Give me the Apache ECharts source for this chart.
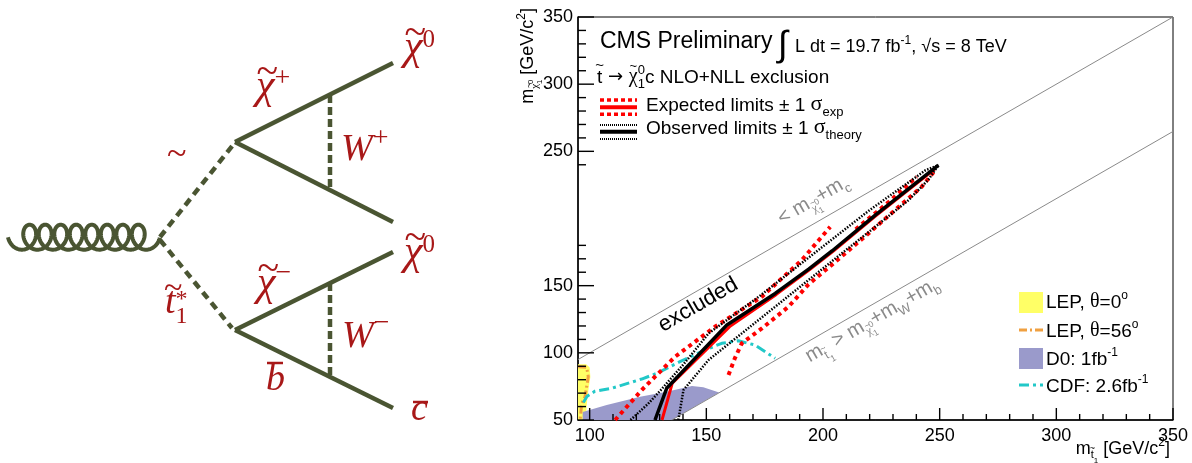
<!DOCTYPE html>
<html><head><meta charset="utf-8">
<script src="https://cdn.jsdelivr.net/npm/echarts@6/dist/echarts.min.js"></script>
<style>html,body{margin:0;padding:0;background:#fff}#c{width:1192px;height:463px}</style>
</head><body><div id="c"></div>
<script>
// ---------------- data ----------------
const xTickMajor = [100, 150, 200, 250, 300, 350];
const xTickMinor = [110,120,130,140,160,170,180,190,210,220,230,240,260,270,280,290,310,320,330,340];
const yTickMajor = [50, 100, 150, 250, 300, 350];
const yTickMinor = [60,70,80,90,110,120,130,140,160,170,180,240,260,270,280,290,310,320,330,340];
const kinLimitC = [[95, 95], [350, 350]];
const kinLimitW = [[135.2, 50], [350, 264.8]];
const lep0 = [[95,50],[95,91.5],[98.5,91.5],[100,89],[100.3,82],[99.6,74],[99,66],[98.6,58],[98.5,50]];
const lep56 = [[95.1,89.7],[98.7,89.2],[99.4,82.2],[98.7,74.8],[98.0,67.3],[96.6,62.4],[95.9,50]];
const d0 = [[97,50],[97,56],[107.3,61.2],[121.6,67.3],[133,71.1],[143.8,75.3],[148.7,74.3],[155.5,70.5],[135.2,50]];
const cdf = [[97.3,63],[98.8,67.5],[102.3,71.5],[109.4,73.6],[122.3,80.5],[128.7,84.7],[138.7,93.4],[148,101],[156.6,107.1],[163.7,109],[170.9,105.8],[179.5,95.9]];
const expected = [[131,50],[135.4,77.5],[160,119.5],[180,143.5],[194.3,162],[204.3,175.5],[222.6,202],[248,237]];
const expPlus = [[110.9,50],[122.3,72.3],[136.6,97.1],[153.7,119.4],[173.8,141.8],[190.9,169],[203.1,193.8]];
const expPlusTop = [[214,192],[228,212],[240.2,231]];
const expMinus = [[159.5,83.5],[162.2,95.9],[165.2,107.1],[173.8,118.2],[185.2,134.3],[193.8,151],[205.2,167.6],[219.5,188.9],[230.9,206.3],[242.3,223.6],[248.1,236]];
const observed = [[128,50],[133,73.6],[158.8,120.7],[179.5,144.2],[194,162.5],[204,176],[222.4,202.5],[249.5,239.7]];
const obsPlus = [[117.5,50],[125,62],[130.5,72.3],[140,91],[151,114.5],[172.5,141.8],[198,176.5],[220,206.3],[244,236],[249.5,239.7]];
const obsMinus = [[138,50],[140.2,72.3],[150.9,94.6],[165.2,114.5],[179.5,134.3],[193.8,154.2],[208.1,174.1],[222.4,193.8],[236.7,213.7],[245.1,228.8],[249.5,239.7]];

// ---------------- helpers ----------------
const SANS = '"Liberation Sans", Arial, "DejaVu Sans", sans-serif';
const SERIF = '"Liberation Serif", "Times New Roman", "DejaVu Serif", serif';
const DJ = '"DejaVu Sans", sans-serif';
const mctx = document.createElement('canvas').getContext('2d');
function tw(t, s, fam, it) { mctx.font = (it ? 'italic ' : '') + s + 'px ' + fam; return mctx.measureText(t).width; }
function rich(pieces, color, align, base) {
  base = base || 0;
  let cur = 0; const els = [];
  for (let i = 0; i < pieces.length; i++) {
    const p = pieces[i];
    const fam = p.f || SANS;
    const w = tw(p.t, p.s, fam, p.it);
    let x = cur + (p.dx || 0), adv = (p.adv !== undefined ? p.adv : w);
    if (p.over) {
      const n = pieces[i + 1];
      const wn = tw(n.t, n.s, n.f || SANS, n.it);
      x = cur + (wn - w) / 2 + (p.dx || 0); adv = 0;
    }
    els.push({ type: 'text', x: x, y: base + (p.dy || 0) - 0.345 * p.s, silent: true,
      style: { text: p.t, fontSize: p.s, fontFamily: fam, fontStyle: p.it ? 'italic' : 'normal',
        fill: p.c || color, align: 'left', verticalAlign: 'middle' } });
    cur += adv;
  }
  const sh = align === 'center' ? -cur / 2 : (align === 'right' ? -cur : 0);
  els.forEach(e => { e.x += sh; });
  return els;
}
function grp(x, y, rot, children) { return { type: 'group', x: x, y: y, rotation: rot || 0, z: 100, silent: true, children: children }; }
function seg(x1, y1, x2, y2, color, w, dash) {
  return { type: 'line', z: 100, silent: true, shape: { x1, y1, x2, y2 }, style: { stroke: color, lineWidth: w, lineDash: dash || null, lineCap: 'butt' } };
}

// ---------------- chart ----------------
const chart = echarts.init(document.getElementById('c'), null, { renderer: 'canvas' });
function lineS(name, data, color, width, type, z) {
  return { name, type: 'line', data, symbol: 'none', showSymbol: false, silent: true, clip: true, z: z || 2,
    lineStyle: { color, width, type, cap: 'butt', join: 'round' } };
}
function polyS(name, pts, color, z) {
  return { name, type: 'custom', coordinateSystem: 'cartesian2d', data: [pts[0]], clip: true, silent: true, z: z || 1,
    renderItem: (params, api) => ({ type: 'polygon', shape: { points: pts.map(p => api.coord(p)) }, style: { fill: color } }) };
}
// inside tick marks, each drawn as a small polygon through the axis scale: [x, y, length, direction(0 up, 1 right)]
const tickData = xTickMajor.map(v => [v, 50, 12, 0]).concat(xTickMinor.map(v => [v, 50, 6, 0]))
  .concat(yTickMajor.map(v => [95, v, 16, 1])).concat(yTickMinor.map(v => [95, v, 8, 1]));
const tickSeries = { name: 'ticks', type: 'custom', coordinateSystem: 'cartesian2d', data: tickData, clip: false, silent: true, z: 20,
  encode: { x: 0, y: 1 },
  renderItem: (params, api) => {
    const p = api.coord([api.value(0), api.value(1)]);
    const L = api.value(2), d = api.value(3), h = 0.7;
    const pts = d ? [[p[0], p[1] - h], [p[0] + L, p[1] - h], [p[0] + L, p[1] + h], [p[0], p[1] + h]]
                  : [[p[0] - h, p[1]], [p[0] - h, p[1] - L], [p[0] + h, p[1] - L], [p[0] + h, p[1]]];
    return { type: 'polygon', shape: { points: pts }, style: { fill: '#000' } };
  } };
const axisFont = { fontSize: 18, fontFamily: SANS, color: '#000' };
chart.setOption({
  animation: false,
  backgroundColor: '#fff',
  grid: { left: 578, top: 17, width: 595, height: 403, show: true, borderColor: '#000', borderWidth: 1, backgroundColor: 'transparent' },
  xAxis: { type: 'value', min: 95, max: 350, splitLine: { show: false },
    axisLine: { show: true, lineStyle: { color: '#000', width: 1.5 } },
    axisTick: { show: false },
    axisLabel: Object.assign({ show: true, customValues: xTickMajor, margin: 7 }, axisFont) },
  yAxis: { type: 'value', min: 50, max: 350, splitLine: { show: false },
    axisLine: { show: true, lineStyle: { color: '#000', width: 1.5 } },
    axisTick: { show: false },
    axisLabel: Object.assign({ show: true, customValues: yTickMajor, margin: 5 }, axisFont) },
  series: [
    lineS('kinC', kinLimitC, '#8a8a8a', 1, 'solid', 1),
    lineS('kinW', kinLimitW, '#8a8a8a', 1, 'solid', 1),
    polyS('LEP0', lep0, '#ffff66', 1),
    polyS('D0', d0, '#9a9acb', 1),
    lineS('LEP56', lep56, '#f0a040', 3, [8, 3, 2, 3], 3),
    lineS('CDF', cdf, '#22c8c8', 3, [10, 4, 3, 4], 3),
    lineS('expPlus', expPlus, '#ff0000', 4, [4, 4], 4),
    lineS('expPlusTop', expPlusTop, '#ff0000', 4, [4, 4], 4),
    lineS('expMinus', expMinus, '#ff0000', 4, [4, 4], 4),
    lineS('expected', expected, '#ff0000', 3, 'solid', 5),
    lineS('obsPlus', obsPlus, '#000', 2.5, [1.5, 1.5], 6),
    lineS('obsMinus', obsMinus, '#000', 2.5, [1.5, 1.5], 6),
    lineS('observed', observed, '#000', 3.5, 'solid', 7),
    tickSeries
  ]
});

// ---------------- graphics ----------------
const G = [];
const OL = '#4a5532', RD = '#a81818', GR = '#8a8a8a';
const px = (v) => chart.convertToPixel({ gridIndex: 0 }, v);

// Feynman diagram
const gl = [];
for (let t = -Math.PI / 2; t <= 16.5 * Math.PI + 1e-6; t += 0.08) gl.push([21.9 + 2.47 * t + 10 * Math.sin(t), 237.2 + 12.5 * Math.cos(t)]);
G.push({ type: 'polyline', z: 100, silent: true, shape: { points: gl }, style: { stroke: OL, lineWidth: 4, fill: null } });
G.push(seg(160, 237, 233, 145, OL, 4.5, [8, 5.5]));
G.push(seg(160, 240, 232, 328, OL, 4.5, [8, 5.5]));
G.push(seg(235, 142, 393, 63, OL, 4.5));
G.push(seg(235, 142, 393, 222, OL, 4.5));
G.push(seg(330, 95, 330, 189, OL, 4.5, [8, 4]));
G.push(seg(235, 330, 393, 252, OL, 4.5));
G.push(seg(235, 330, 393, 408, OL, 4.5));
G.push(seg(330, 283, 330, 377, OL, 4.5, [8, 4]));
const FI = { f: SERIF, it: true };
function chi(s) { return [{ t: '~', s: s * 0.95, over: true, dy: -14, dx: 2, f: SERIF }, Object.assign({ t: 'χ', s: s }, FI)]; }
G.push(grp(404, 62, 0, rich(chi(42).concat([{ t: '0', s: 25, dy: -13, f: SERIF }]), RD)));
G.push(grp(404, 267, 0, rich(chi(42).concat([{ t: '0', s: 25, dy: -13, f: SERIF }]), RD)));
G.push(grp(256, 101, 0, rich(chi(42).concat([{ t: '+', s: 28, dy: -13, f: SERIF }]), RD)));
G.push(grp(257, 298, 0, rich(chi(42).concat([{ t: '−', s: 28, dy: -15, f: SERIF }]), RD)));
G.push(grp(341, 163, 0, rich([Object.assign({ t: 'W', s: 38 }, FI), { t: '+', s: 28, dy: -15, f: SERIF }], RD)));
G.push(grp(342, 350, 0, rich([Object.assign({ t: 'W', s: 38 }, FI), { t: '−', s: 28, dy: -17, f: SERIF }], RD)));
G.push(grp(167, 168, 0, rich([{ t: '~', s: 36, f: SERIF }], RD)));
G.push(grp(165, 316, 0, rich([{ t: '~', s: 34, over: true, dy: -15, dx: 3, f: SERIF }, Object.assign({ t: 't', s: 38 }, FI),
  { t: '*', s: 24, dy: -8, adv: 0, f: SERIF }, { t: '1', s: 24, dy: 9, f: SERIF }], RD)));
G.push(grp(266, 393, 0, rich([Object.assign({ t: 'b', s: 38 }, FI)], RD)));
G.push(seg(267, 363, 283, 363, RD, 2.5));
G.push(grp(411, 423, 0, rich([Object.assign({ t: 'c', s: 38 }, FI)], RD)));
G.push(seg(413, 402, 428, 402, RD, 2.5));

// CMS header and legend
G.push(grp(600, 50, 0, rich([{ t: 'CMS Preliminary', s: 23 }], '#000')));
G.push(grp(778, 58, 0, rich([{ t: '∫', s: 36 }], '#000')));
G.push(grp(795, 53, 0, rich([{ t: 'L dt = 19.7 fb', s: 18 }, { t: '-1', s: 12, dy: -8 }, { t: ', ', s: 18 },
  { t: '√', s: 18 }, { t: 's = 8 TeV', s: 18 }], '#000')));
G.push(grp(597, 84, 0, rich([{ t: '~', s: 15, over: true, dy: -13 }, { t: 't', s: 19 }, { t: ' → ', s: 18, f: DJ },
  { t: '~', s: 13, over: true, dy: -13 }, { t: 'χ', s: 20, f: SERIF }, { t: '0', s: 13, dy: -9, adv: 0 }, { t: '1', s: 13, dy: 5 },
  { t: 'c NLO+NLL exclusion', s: 19 }], '#000')));
G.push(grp(646, 112, 0, rich([{ t: 'Expected limits ± 1 ', s: 19 }, { t: 'σ', s: 22, f: SERIF }, { t: 'exp', s: 13, dy: 5 }], '#000')));
G.push(grp(646, 135, 0, rich([{ t: 'Observed limits ± 1 ', s: 19 }, { t: 'σ', s: 22, f: SERIF }, { t: 'theory', s: 13, dy: 5 }], '#000')));
G.push(seg(600, 100, 637, 100, '#ff0000', 3.5, [4, 3]));
G.push(seg(600, 107.3, 637, 107.3, '#ff0000', 4));
G.push(seg(600, 114.3, 637, 114.3, '#ff0000', 3.5, [4, 3]));
G.push(seg(600, 125, 637, 125, '#000', 2, [1, 1]));
G.push(seg(600, 131.7, 637, 131.7, '#000', 4));
G.push(seg(600, 139, 637, 139, '#000', 2, [1, 1]));

// right legend
G.push({ type: 'rect', z: 100, silent: true, shape: { x: 1019, y: 292, width: 24, height: 21 }, style: { fill: '#ffff66' } });
G.push(seg(1019, 330, 1043, 330, '#f0a040', 3, [8, 3, 2, 3]));
G.push({ type: 'rect', z: 100, silent: true, shape: { x: 1019, y: 348, width: 24, height: 21 }, style: { fill: '#9a9acb' } });
G.push(seg(1019, 385, 1043, 385, '#22c8c8', 3, [10, 4, 3, 4]));
G.push(grp(1046, 309, 0, rich([{ t: 'LEP, ', s: 19 }, { t: 'θ', s: 20, f: SERIF }, { t: '=0', s: 19 }, { t: 'o', s: 12, dy: -9 }], '#000')));
G.push(grp(1046, 338, 0, rich([{ t: 'LEP, ', s: 19 }, { t: 'θ', s: 20, f: SERIF }, { t: '=56', s: 19 }, { t: 'o', s: 12, dy: -9 }], '#000')));
G.push(grp(1046, 366, 0, rich([{ t: 'D0: 1fb', s: 19 }, { t: '-1', s: 12, dy: -9 }], '#000')));
G.push(grp(1046, 393, 0, rich([{ t: 'CDF: 2.6fb', s: 19 }, { t: '-1', s: 12, dy: -9 }], '#000')));

// axis titles
const subChi = (s) => [{ t: '~', s: s * 0.8, over: true, dy: -s * 0.1, dx: 1 }, { t: 'χ', s: s, f: SERIF, dy: s * 0.45 },
  { t: '0', s: s * 0.7, dy: -s * 0.05, adv: 0 }, { t: '1', s: s * 0.7, dy: s * 0.75 }];
G.push(grp(534, 8, Math.PI / 2, rich([{ t: 'm', s: 18 }].concat(subChi(11)).concat([{ t: ' [GeV/c', s: 18 }, { t: '2', s: 12, dy: -8 }, { t: ']', s: 18 }]), '#000', 'right')));
G.push(grp(1170, 455, 0, rich([{ t: 'm', s: 18 }, { t: '~', s: 9, over: true, dy: -3 }, { t: 't', s: 11, dy: 4 }, { t: '1', s: 8, dy: 9 },
  { t: ' [GeV/c', s: 18 }, { t: '2', s: 12, dy: -8 }, { t: ']', s: 18 }], '#000', 'right')));

// rotated in-plot texts, anchored at data coordinates
const R = Math.PI / 6;
const pEx = px([146.5, 135.6]);
G.push(grp(pEx[0], pEx[1], R, rich([{ t: 'excluded', s: 22 }], '#000', 'center', 7.5)));
const pC = px([195.8, 213.7]);
G.push(grp(pC[0], pC[1], R, rich([{ t: '< m', s: 20 }].concat(subChi(12)).concat([{ t: '+m', s: 20 }, { t: 'c', s: 13, dy: 5 }]), GR, 'center', 7)));
const pW = px([221.1, 124.4]);
G.push(grp(pW[0], pW[1], R, rich([{ t: 'm', s: 20 }, { t: '~', s: 10, over: true, dy: -3 }, { t: 't', s: 12, dy: 5 }, { t: '1', s: 9, dy: 10 },
  { t: ' > m', s: 20 }].concat(subChi(12)).concat([{ t: '+m', s: 20 }, { t: 'W', s: 13, dy: 5 }, { t: '+m', s: 20 }, { t: 'b', s: 13, dy: 5 }]), GR, 'center', 7)));

chart.setOption({ graphic: { elements: G } });
</script>
</body></html>
